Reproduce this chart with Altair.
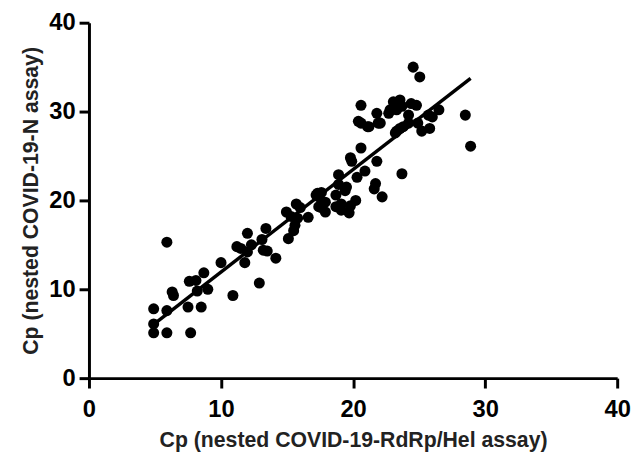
import altair as alt
import pandas as pd

x_vals = [4.9, 4.9, 4.9, 5.9, 5.9, 5.9, 6.3, 6.4, 7.5, 7.7, 7.6, 8.1, 8.2, 8.7, 9.0, 8.5,
          10.0, 10.9, 11.5, 12.0, 11.8, 12.9, 12.3, 13.2, 13.4, 13.1, 14.15, 15.1, 14.95, 15.7,
          15.6, 16.6, 17.4, 17.4, 17.9, 18.7, 18.9, 12.0, 15.3, 15.5, 11.2, 13.5, 15.8, 16.0,
          17.2, 17.6, 17.9, 19.1, 18.9, 17.3, 18.7, 19.4, 17.6, 19.1, 19.8, 19.7, 20.2, 19.5,
          20.3, 20.9, 21.7, 21.6, 22.2, 23.7, 19.8, 20.6, 21.8, 19.9, 20.4, 21.1, 20.6, 21.8,
          21.9, 22.7, 23.05, 23.55, 24.4, 23.7, 24.8, 22.8, 23.3, 24.2, 24.2, 23.3, 23.8, 24.9,
          25.2, 25.8, 25.7, 26.0, 26.5, 28.5, 28.9, 24.55, 25.05, 22.06, 23.55, 23.2, 21.2, 20.6]
y_vals = [5.1, 6.1, 7.8, 5.1, 15.3, 7.6, 9.7, 9.3, 8.0, 5.1, 10.9, 11.0, 9.8, 11.85, 10.0, 8.0,
          13.0, 9.3, 14.6, 16.3, 13.0, 10.7, 15.0, 14.4, 16.85, 15.6, 13.5, 15.7, 18.7, 19.6,
          17.2, 18.1, 20.4, 19.3, 18.7, 19.3, 22.9, 14.2, 18.2, 16.6, 14.8, 14.3, 18.0, 19.2,
          20.6, 20.9, 19.8, 19.6, 21.8, 20.8, 20.6, 21.1, 19.2, 18.9, 19.4, 18.6, 20.0, 21.5,
          22.6, 23.3, 21.9, 21.3, 20.4, 23.0, 24.8, 25.9, 24.4, 24.4, 28.9, 28.3, 30.7, 29.8,
          28.7, 29.8, 31.1, 31.3, 30.9, 30.6, 30.7, 30.2, 30.2, 29.6, 28.7, 27.8, 28.3, 28.7,
          27.8, 28.1, 29.6, 29.4, 30.2, 29.6, 26.1, 35.0, 33.9, 28.7, 28.1, 27.6, 28.3, 28.7]

x_ticks = [0, 10, 20, 30, 40]
y_ticks = [0, 10, 20, 30, 40]

df = pd.DataFrame({"x": x_vals, "y": y_vals})

FONT = "Liberation Sans"

xs = alt.Scale(domain=[0, 40], nice=False, zero=False)
ys = alt.Scale(domain=[0, 40], nice=False, zero=False)

xaxis = alt.Axis(values=x_ticks, title="Cp (nested COVID-19-RdRp/Hel assay)", grid=False,
                 domainColor="black", domainWidth=3, tickColor="black", tickWidth=3, tickSize=10,
                 labelFont=FONT, labelFontSize=24, labelFontWeight="bold", labelColor="black",
                 labelPadding=10, titleFont=FONT, titleFontSize=21.5, titleFontWeight="bold",
                 titleColor="#222222", titlePadding=8, labelFlush=False)
yaxis = alt.Axis(values=y_ticks, title="Cp (nested COVID-19-N assay)", grid=False,
                 domainColor="black", domainWidth=3, tickColor="black", tickWidth=3, tickSize=10,
                 labelFont=FONT, labelFontSize=24, labelFontWeight="bold", labelColor="black",
                 labelPadding=4, titleFont=FONT, titleFontSize=21.5, titleFontWeight="bold",
                 titleColor="#222222", titlePadding=6, labelFlush=False)

pts = alt.Chart(df).mark_circle(size=125, color="black", opacity=1).encode(
    x=alt.X("x:Q", scale=xs, axis=xaxis),
    y=alt.Y("y:Q", scale=ys, axis=yaxis),
)

line = alt.Chart(df).transform_regression("x", "y").mark_line(
    color="black", strokeWidth=3.5).encode(
    x=alt.X("x:Q", scale=xs),
    y=alt.Y("y:Q", scale=ys),
)

chart = (pts + line).properties(
    width=535, height=360,
    autosize=alt.AutoSizeParams(type="none"),
    padding={"left": 82, "top": 12, "right": 15, "bottom": 79},
).configure_view(stroke=None)

chart.save("out.html", embed_options={"renderer": "svg", "actions": False})
